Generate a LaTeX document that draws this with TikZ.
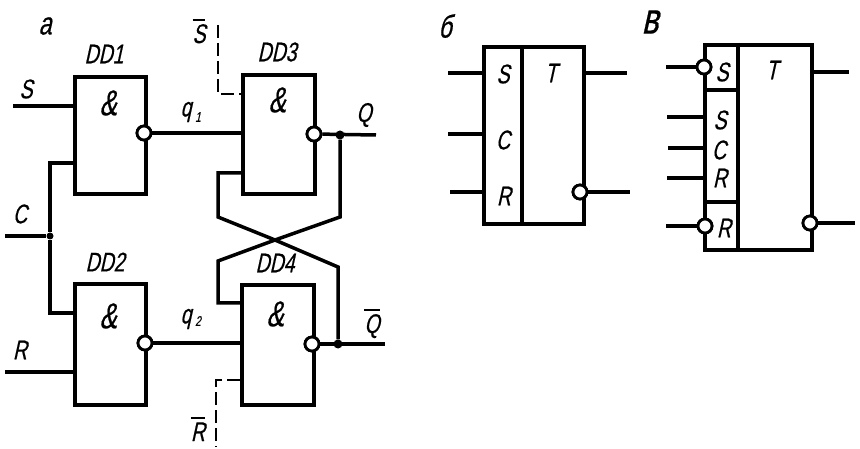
\documentclass[tikz,border=0pt]{standalone}
\usepackage{fontspec}
\newfontfamily\lab{Liberation Sans}[FakeStretch=0.72,FakeSlant=0.22,FakeBold=0.5]
\newcommand{\barred}[1]{\vbox{\hrule height 2pt\kern 3.5pt\hbox{#1}}}
\tikzset{
  wire/.style={line width=3.5pt},
  dashwire/.style={line width=2.4pt,dash pattern=on 13pt off 5pt},
  box/.style={draw,line width=3.6pt,inner sep=0pt,minimum width=#1,anchor=north west},
  bubble/.style={draw,circle,fill=white,line width=2.8pt,minimum size=14pt,inner sep=0pt},
  joint/.style={fill,circle,minimum size=#1,inner sep=0pt},
  lbl/.style={inner sep=0pt,font=\lab\fontsize{27}{27}\selectfont},
  amp/.style={inner sep=0pt,font=\lab\fontsize{36}{36}\selectfont},
  letter/.style={inner sep=0pt,font=\lab\fontsize{32}{32}\selectfont},
  bigletter/.style={inner sep=0pt,font=\lab\fontsize{44}{44}\selectfont},
  small/.style={inner sep=0pt,font=\lab\fontsize{14}{14}\selectfont}
}
\begin{document}
\begin{tikzpicture}[x=1pt,y=-1pt]
\useasboundingbox (0,0) rectangle (860,449);
% ---- gates of a
\node[box=71pt,minimum height=117pt] (dd1) at (73,75) {};
\node[box=72pt,minimum height=119pt] (dd3) at (241,73) {};
\node[box=71pt,minimum height=121pt] (dd2) at (73,282) {};
\node[box=72pt,minimum height=120pt] (dd4) at (240,283) {};
\node[bubble] (b1) at (144,133) {};
\node[bubble] (b3) at (314,134) {};
\node[bubble] (b2) at (145,343) {};
\node[bubble] (b4) at (312,344) {};
% free ends and bends
\coordinate (sin) at (13,106);
\coordinate (cin) at (5,236);
\coordinate (rin) at (5,372);
\coordinate (qout) at (376,135);
\coordinate (nqout) at (385,344);
\coordinate (cup) at (50,163);
\coordinate (cdn) at (50,313);
\coordinate (x) at (275,240);
\coordinate (fa) at (340,217);
\coordinate (fb) at (218,261);
\coordinate (fc) at (218,303);
\coordinate (ga) at (338,267);
\coordinate (gb) at (218,217);
\coordinate (gc) at (218,173);
\coordinate (st) at (218,25);
\coordinate (sc) at (218,94);
\coordinate (rc) at (216,380);
\coordinate (rb) at (216,447);
\node[joint=7pt] (jc) at (50,236) {};
\node[joint=9pt] (jq) at (340,135) {};
\node[joint=9pt] (jn) at (338,344) {};
% wires
\draw[wire] (sin) -- (sin -| dd1.west);
\draw[wire] (cin) -- (jc);
\draw[wire] (dd1.west |- cup) -- (cup) -- (jc) -- (cdn) -- (dd2.west |- cdn);
\draw[wire] (rin) -- (rin -| dd2.west);
\draw[wire] (b1) -- (b1 -| dd3.west);
\draw[wire] (b2) -- (b2 -| dd4.west);
\draw[wire] (b3) -- (qout);
\draw[wire] (b4) -- (nqout);
\draw[wire] (jq) -- (fa) -- (x) -- (fb) -- (fc) -- (fc -| dd4.west);
\draw[wire] (jn) -- (ga) -- (x) -- (gb) -- (gc) -- (gc -| dd3.west);
\draw[dashwire] (st) -- (sc) -- (sc -| dd3.west);
\draw[dashwire] (dd4.west |- rc) -- (rc) -- (rb);
\node[bubble] at (b1) {};
\node[bubble] at (b2) {};
\node[bubble] at (b3) {};
\node[bubble] at (b4) {};
% labels of a
\node[letter] (ta) at (45,26) {а};
\node[lbl] (t1) at (104,54) {DD1};
\node[lbl] (t3) at (277,52) {DD3};
\node[lbl] (t2) at (105,262) {DD2};
\node[lbl] (t4) at (275,263) {DD4};
\node[amp] (a1) at (108,103) {\&};
\node[amp] (a3) at (277,100) {\&};
\node[amp] (a2) at (108,316) {\&};
\node[amp] (a4) at (275,314) {\&};
\node[lbl] (ts) at (26,89) {S};
\node[lbl] (tc) at (20,214) {C};
\node[lbl] (tr) at (20,350) {R};
\node[lbl] (tq) at (364,115) {Q};
\node[lbl,anchor=base] (tnq) at (372,333) {\barred{Q}};
\node[lbl,anchor=base] (tns) at (199,43) {\barred{S}};
\node[lbl,anchor=base] (tnr) at (198,441) {\barred{R}};
\node[lbl] (tq1) at (186,112) {q};
\node[small] (tq1i) at (198,117) {1};
\node[lbl] (tq2) at (186,319) {q};
\node[small] (tq2i) at (198,321) {2};
% ---- b
\node[box=100pt,minimum height=177pt] (bb) at (482,45) {};
\coordinate (bdt) at (522,45);
\coordinate (bdb) at (522,222);
\draw[wire] (bdt) -- (bdb);
\node[bubble] (bq) at (580,192) {};
\coordinate (bi1) at (448,73);
\coordinate (bi2) at (448,134);
\coordinate (bi3) at (450,192);
\coordinate (bo1) at (627,73);
\coordinate (bo2) at (630,192);
\draw[wire] (bi1) -- (bi1 -| bb.west);
\draw[wire] (bi2) -- (bi2 -| bb.west);
\draw[wire] (bi3) -- (bi3 -| bb.west);
\draw[wire] (bb.east |- bo1) -- (bo1);
\draw[wire] (bq) -- (bo2);
\node[bubble] at (bq) {};
\node[letter] (bta) at (445,26) {б};
\node[lbl] (bts) at (503,74) {S};
\node[lbl] (btt) at (551,73) {T};
\node[lbl] (btc) at (503,140) {C};
\node[lbl] (btr) at (504,196) {R};
% ---- c
\node[box=107pt,minimum height=205pt] (cb) at (703,43) {};
\coordinate (cdt) at (738,43);
\coordinate (cdb) at (738,248);
\draw[wire] (cdt) -- (cdb);
\coordinate (ch1) at (703,90);
\coordinate (ch2) at (703,202);
\draw[wire] (ch1) -- (ch1 -| cdt);
\draw[wire] (ch2) -- (ch2 -| cdt);
\node[bubble] (cn1) at (704,67) {};
\node[bubble] (cn2) at (705,226) {};
\node[bubble] (cn3) at (810,223) {};
\coordinate (ci1) at (666,67);
\coordinate (ci2) at (667,117);
\coordinate (ci3) at (668,148);
\coordinate (ci4) at (667,178);
\coordinate (ci5) at (666,226);
\coordinate (co1) at (849,72);
\coordinate (co2) at (855,223);
\draw[wire] (ci1) -- (cn1);
\draw[wire] (ci2) -- (ci2 -| cb.west);
\draw[wire] (ci3) -- (ci3 -| cb.west);
\draw[wire] (ci4) -- (ci4 -| cb.west);
\draw[wire] (ci5) -- (cn2);
\draw[wire] (cb.east |- co1) -- (co1);
\draw[wire] (cn3) -- (co2);
\node[bubble] at (cn1) {};
\node[bubble] at (cn2) {};
\node[bubble] at (cn3) {};
\node[bigletter] (cta) at (650,22) {в};
\node[lbl] (cts) at (722,72) {S};
\node[lbl] (ctt) at (772,70) {T};
\node[lbl] (cts2) at (720,120) {S};
\node[lbl] (ctc) at (719,150) {C};
\node[lbl] (ctr) at (720,178) {R};
\node[lbl] (ctr2) at (724,228) {R};
\end{tikzpicture}
\end{document}
